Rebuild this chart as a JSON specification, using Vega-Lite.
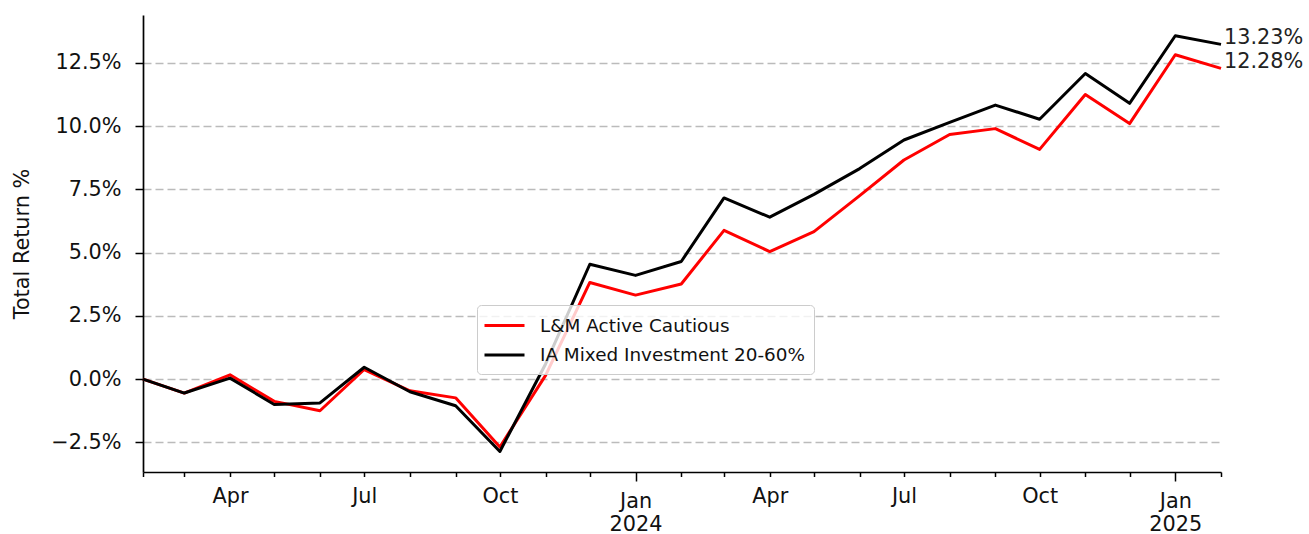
{
  "$schema": "https://vega.github.io/schema/vega-lite/v6.json",
  "autosize": {"type": "none"},
  "padding": {"left": 143, "top": 15, "right": 88, "bottom": 62},
  "width": 1078,
  "height": 457,
  "config": {
    "view": {"stroke": null},
    "font": "DejaVu Sans"
  },
  "data": {
    "values": [
      {"date": "2023-02-01", "series": "L&M Active Cautious", "value": 0.0},
      {"date": "2023-03-01", "series": "L&M Active Cautious", "value": -0.0055},
      {"date": "2023-04-01", "series": "L&M Active Cautious", "value": 0.0017},
      {"date": "2023-05-01", "series": "L&M Active Cautious", "value": -0.0088},
      {"date": "2023-06-01", "series": "L&M Active Cautious", "value": -0.0125},
      {"date": "2023-07-01", "series": "L&M Active Cautious", "value": 0.0038},
      {"date": "2023-08-01", "series": "L&M Active Cautious", "value": -0.0046},
      {"date": "2023-09-01", "series": "L&M Active Cautious", "value": -0.0074},
      {"date": "2023-10-01", "series": "L&M Active Cautious", "value": -0.0268},
      {"date": "2023-11-01", "series": "L&M Active Cautious", "value": 0.0015},
      {"date": "2023-12-01", "series": "L&M Active Cautious", "value": 0.0382},
      {"date": "2024-01-01", "series": "L&M Active Cautious", "value": 0.0332},
      {"date": "2024-02-01", "series": "L&M Active Cautious", "value": 0.0376},
      {"date": "2024-03-01", "series": "L&M Active Cautious", "value": 0.0588},
      {"date": "2024-04-01", "series": "L&M Active Cautious", "value": 0.0504},
      {"date": "2024-05-01", "series": "L&M Active Cautious", "value": 0.0583},
      {"date": "2024-06-01", "series": "L&M Active Cautious", "value": 0.0725},
      {"date": "2024-07-01", "series": "L&M Active Cautious", "value": 0.0866},
      {"date": "2024-08-01", "series": "L&M Active Cautious", "value": 0.0967},
      {"date": "2024-09-01", "series": "L&M Active Cautious", "value": 0.0990},
      {"date": "2024-10-01", "series": "L&M Active Cautious", "value": 0.0908},
      {"date": "2024-11-01", "series": "L&M Active Cautious", "value": 0.1125},
      {"date": "2024-12-01", "series": "L&M Active Cautious", "value": 0.1010},
      {"date": "2025-01-01", "series": "L&M Active Cautious", "value": 0.1282},
      {"date": "2025-02-01", "series": "L&M Active Cautious", "value": 0.1228},
      {"date": "2023-02-01", "series": "IA Mixed Investment 20-60%", "value": 0.0},
      {"date": "2023-03-01", "series": "IA Mixed Investment 20-60%", "value": -0.0055},
      {"date": "2023-04-01", "series": "IA Mixed Investment 20-60%", "value": 0.0004},
      {"date": "2023-05-01", "series": "IA Mixed Investment 20-60%", "value": -0.0100},
      {"date": "2023-06-01", "series": "IA Mixed Investment 20-60%", "value": -0.0094},
      {"date": "2023-07-01", "series": "IA Mixed Investment 20-60%", "value": 0.0047},
      {"date": "2023-08-01", "series": "IA Mixed Investment 20-60%", "value": -0.0050},
      {"date": "2023-09-01", "series": "IA Mixed Investment 20-60%", "value": -0.0105},
      {"date": "2023-10-01", "series": "IA Mixed Investment 20-60%", "value": -0.0286},
      {"date": "2023-11-01", "series": "IA Mixed Investment 20-60%", "value": 0.0060},
      {"date": "2023-12-01", "series": "IA Mixed Investment 20-60%", "value": 0.0454},
      {"date": "2024-01-01", "series": "IA Mixed Investment 20-60%", "value": 0.0410},
      {"date": "2024-02-01", "series": "IA Mixed Investment 20-60%", "value": 0.0465},
      {"date": "2024-03-01", "series": "IA Mixed Investment 20-60%", "value": 0.0716},
      {"date": "2024-04-01", "series": "IA Mixed Investment 20-60%", "value": 0.0640},
      {"date": "2024-05-01", "series": "IA Mixed Investment 20-60%", "value": 0.0730},
      {"date": "2024-06-01", "series": "IA Mixed Investment 20-60%", "value": 0.0832},
      {"date": "2024-07-01", "series": "IA Mixed Investment 20-60%", "value": 0.0945},
      {"date": "2024-08-01", "series": "IA Mixed Investment 20-60%", "value": 0.1015},
      {"date": "2024-09-01", "series": "IA Mixed Investment 20-60%", "value": 0.1083},
      {"date": "2024-10-01", "series": "IA Mixed Investment 20-60%", "value": 0.1027},
      {"date": "2024-11-01", "series": "IA Mixed Investment 20-60%", "value": 0.1208},
      {"date": "2024-12-01", "series": "IA Mixed Investment 20-60%", "value": 0.1090},
      {"date": "2025-01-01", "series": "IA Mixed Investment 20-60%", "value": 0.1357},
      {"date": "2025-02-01", "series": "IA Mixed Investment 20-60%", "value": 0.1323}
    ]
  },
  "encoding": {
    "x": {
      "field": "date",
      "type": "temporal",
      "scale": {"type": "utc", "nice": false},
      "axis": {
        "title": null,
        "grid": false,
        "domainColor": "#000000",
        "domainWidth": 1.7,
        "tickColor": "#000000",
        "tickWidth": 1.5,
        "tickCount": {"interval": "month", "step": 1},
        "tickSize": {"condition": {"test": "utcmonth(datum.value)==0", "value": 9}, "value": 4.5},
        "labelPadding": 10,
        "labelExpr": "utcmonth(datum.value)==0 ? ['Jan', '' + utcyear(datum.value)] : (utcmonth(datum.value)%3==0 ? utcFormat(datum.value, '%b') : '')",
        "labelOverlap": false,
        "labelBound": false,
        "labelFlush": false,
        "labelFont": "DejaVu Sans",
        "labelFontSize": 20.8,
        "labelLineHeight": 23,
        "labelColor": "#111111"
      }
    },
    "y": {
      "field": "value",
      "type": "quantitative",
      "scale": {"domain": [-0.0367, 0.1439], "nice": false, "zero": false},
      "axis": {
        "title": "Total Return %",
        "titleFont": "DejaVu Sans",
        "titleFontSize": 20.8,
        "titleFontWeight": "normal",
        "titleColor": "#111111",
        "titlePadding": 18,
        "values": [-0.025, 0, 0.025, 0.05, 0.075, 0.1, 0.125],
        "format": ".1%",
        "grid": true,
        "gridColor": "#bbbbbb",
        "gridDash": [8, 4],
        "gridWidth": 1.5,
        "domainColor": "#000000",
        "domainWidth": 1.7,
        "tickColor": "#000000",
        "tickWidth": 1.5,
        "tickSize": 8,
        "labelPadding": 14,
        "labelFont": "DejaVu Sans",
        "labelFontSize": 20.8,
        "labelColor": "#111111"
      }
    }
  },
  "layer": [
    {
      "transform": [{"filter": "datum.series == 'L&M Active Cautious'"}],
      "mark": {"type": "line", "strokeWidth": 3, "strokeJoin": "round"},
      "encoding": {
        "color": {
          "field": "series",
          "type": "nominal",
          "scale": {"domain": ["L&M Active Cautious", "IA Mixed Investment 20-60%"], "range": ["#ff0000", "#000000"]},
          "legend": {
            "title": null,
            "orient": "none",
            "legendX": 334,
            "legendY": 290,
            "direction": "vertical",
            "symbolType": "M-2,0H2",
            "symbolSize": 400,
            "symbolStrokeWidth": 3,
            "symbolOffset": 7,
            "labelFont": "DejaVu Sans",
            "labelFontSize": 18.4,
            "labelColor": "#111111",
            "labelOffset": 24,
            "labelLimit": 400,
            "fillColor": "rgba(255,255,255,0.8)",
            "strokeColor": "#cccccc",
            "cornerRadius": 4,
            "padding": 9,
            "rowPadding": 8.5
          }
        }
      }
    },
    {
      "transform": [{"filter": "datum.series == 'IA Mixed Investment 20-60%'"}],
      "mark": {"type": "line", "strokeWidth": 3, "strokeJoin": "round"},
      "encoding": {
        "color": {"field": "series", "type": "nominal"}
      }
    },
    {
      "transform": [{"filter": "utcyear(datum.date) == 2025 && utcmonth(datum.date) == 1"}],
      "mark": {"type": "text", "align": "left", "baseline": "alphabetic", "dx": 3, "fontSize": 20.8, "font": "DejaVu Sans", "color": "#222222"},
      "encoding": {
        "text": {"field": "value", "type": "quantitative", "format": ".2%"}
      }
    }
  ]
}
